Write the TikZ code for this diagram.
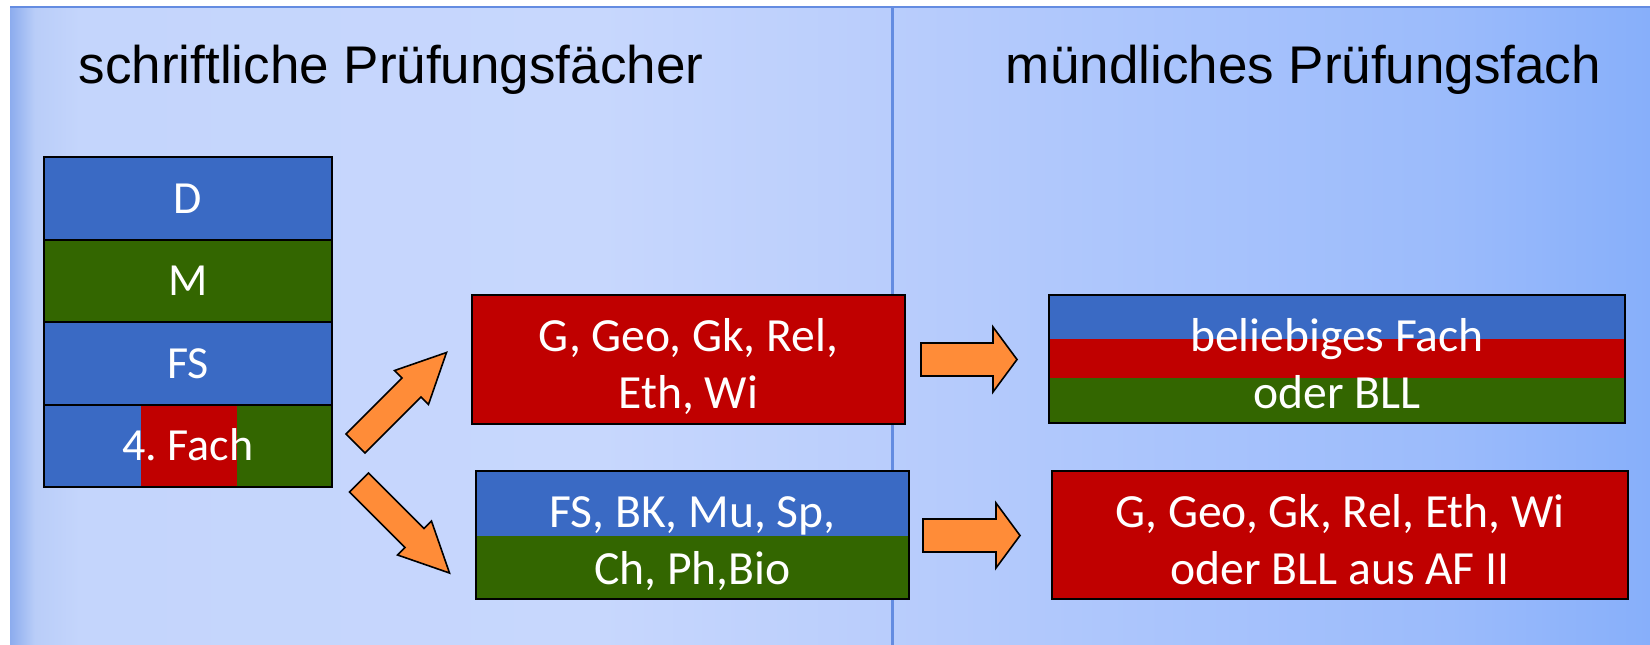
\documentclass[tikz,border=0pt]{standalone}
\usepackage{fontspec}
\setmainfont{Carlito}
\newfontfamily\titelschrift{Liberation Sans}
\usepackage{tikz}
\usetikzlibrary{positioning}
\frenchspacing
\definecolor{fbblau}{RGB}{58,106,196}
\definecolor{fbgruen}{RGB}{51,102,0}
\definecolor{fbrot}{RGB}{192,0,0}
\definecolor{fborange}{RGB}{255,140,56}
\definecolor{fblinie}{RGB}{100,140,225}
\definecolor{hgrand}{RGB}{140,172,238}
\definecolor{hgeins}{RGB}{185,205,248}
\definecolor{hgzwei}{RGB}{196,213,252}
\definecolor{hgdrei}{RGB}{199,215,253}
\definecolor{hgvier}{RGB}{185,205,252}
\definecolor{hgfuenf}{RGB}{168,195,252}
\definecolor{hgsechs}{RGB}{155,187,251}
\definecolor{hgsieben}{RGB}{135,175,250}
\pgfdeclarehorizontalshading{hintergrund}{100bp}{color(0bp)=(hgrand); color(25bp)=(hgrand);
  color(25.76bp)=(hgeins); color(27.13bp)=(hgzwei); color(43bp)=(hgdrei); color(51.83bp)=(hgvier);
  color(61.28bp)=(hgfuenf); color(68.9bp)=(hgsechs); color(75bp)=(hgsieben); color(100bp)=(hgsieben)}
\tikzstyle{titel} = [font={\titelschrift\fontsize{53}{60}\selectfont}, inner sep=0pt]
\tikzstyle{zeile} = [rectangle, draw=black, line width=1.7pt, minimum width=288, minimum height=82.5, inner sep=0pt, text=white, font=\fontsize{46}{55}\selectfont, text height=29.6pt, text depth=0pt]
\tikzstyle{kasten} = [rectangle, draw=black, line width=1.7pt, minimum height=128, inner sep=0pt]
\tikzstyle{schrift} = [text=white, font=\fontsize{47.6}{57}\selectfont, align=center, inner sep=0pt]
\tikzstyle{pfeil} = [fill=fborange, draw=black, line width=1.6pt, line join=miter]
% Blockpfeil: Anfang, Winkel, Laenge, halbe Schaftbreite, halbe Spitzenbreite, Spitzenlaenge
\newcommand{\blockpfeil}[6]{%
  \draw[pfeil, shift={#1}, rotate=#2] (0,#4) -- ({#3-#6},#4) -- ({#3-#6},#5) -- (#3,0)
    -- ({#3-#6},-#5) -- ({#3-#6},-#4) -- (0,-#4) -- cycle;}

\begin{document}
\begin{tikzpicture}[x=1pt, y=-1pt]
\useasboundingbox (0,0) rectangle (1650,645);
% Hintergrund
\shade[shading=hintergrund] (10,7) rectangle (1650,645);
\draw[fblinie, line width=2pt] (10,7) -- (1650,7);
\draw[fblinie, line width=3pt] (892,7) -- (892,645);

% Ueberschriften
\node (schriftlich) [titel, anchor=base] at (391,83) {schriftliche Prüfungsfächer};
\node (muendlich) [titel, anchor=base] at (1303.5,83) {mündliches Prüfungsfach};

% Schriftliche Faecher
\node (d) [zeile, fill=fbblau] at (188,198.5) {D};
\node (m) [zeile, fill=fbgruen, below of=d, node distance=82.5] {M};
\node (fs) [zeile, fill=fbblau, below of=m, node distance=82.5] {FS};
\node (fach) [zeile, fill=fbblau, below of=fs, node distance=82.5, path picture={
  \fill[fbrot] ([xshift=97pt]path picture bounding box.south west) rectangle ([xshift=193pt]path picture bounding box.north west);
  \fill[fbgruen] ([xshift=193pt]path picture bounding box.south west) rectangle (path picture bounding box.north east);
}] {4. Fach};

% Wahl des 4. Fachs
\node (gesell) [kasten, fill=fbrot, minimum width=433, minimum height=129] at (688.5,359.5) {};
\node (gesellt) [schrift, anchor=base] at (688.5,408) {G, Geo, Gk, Rel,\\Eth, Wi};
\node (natur) [kasten, fill=fbgruen, minimum width=433, path picture={
  \fill[fbblau] (path picture bounding box.north west) rectangle ([yshift=-1pt]path picture bounding box.east);
}] at (692.5,535) {};
\node (naturt) [schrift, anchor=base] at (692.5,584) {FS, BK, Mu, Sp,\\Ch, Ph,Bio};

% Muendliches Fach
\node (belieb) [kasten, fill=fbrot, minimum width=576, path picture={
  \fill[fbblau] (path picture bounding box.north west) rectangle ([yshift=-44pt]path picture bounding box.north east);
  \fill[fbgruen] (path picture bounding box.south west) rectangle ([yshift=45pt]path picture bounding box.south east);
}] at (1337,359) {};
\node (beliebt) [schrift, anchor=base] at (1337,408) {beliebiges Fach\\oder BLL};
\node (afzwei) [kasten, fill=fbrot, minimum width=576] at (1340,535) {};
\node (afzweit) [schrift, anchor=base] at (1340,584) {G, Geo, Gk, Rel, Eth, Wi\\oder BLL aus AF II};

% Pfeile
\coordinate (pfeilA) at (355.5,443.5);
\coordinate (pfeilB) at (359,482.5);
\coordinate (pfeilC) at (921,359.5);
\coordinate (pfeilD) at (923,535.5);
\blockpfeil{(pfeilA)}{45}{128.7}{13.5}{24}{49.5}
\blockpfeil{(pfeilB)}{-45}{128}{13.5}{24}{49.5}
\blockpfeil{(pfeilC)}{0}{96}{16.5}{32.5}{24}
\blockpfeil{(pfeilD)}{0}{97}{16.5}{32.5}{24}
\end{tikzpicture}
\end{document}
